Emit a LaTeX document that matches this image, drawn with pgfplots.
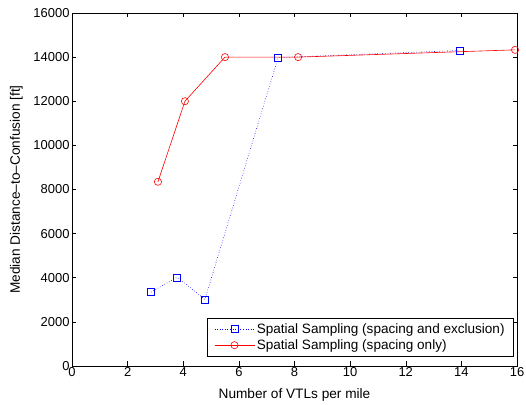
\documentclass[border=0pt]{standalone}
\usepackage{fontspec}
\setmainfont{Liberation Sans}
\usepackage{pgfplots}
\pgfplotsset{compat=1.18}
\begin{document}
\begin{tikzpicture}[x=1bp,y=1bp]
\useasboundingbox (-72bp,-39bp) rectangle (454bp,366bp);
\begin{axis}[
  at={(0,0)}, anchor=south west,
  scale only axis,
  width=445bp, height=353bp,
  xmin=0, xmax=16, ymin=0, ymax=16000,
  xtick={0,2,...,16}, ytick={0,2000,...,16000},
  tick align=inside,
  tick pos=both,
  major tick length=4.5bp,
  scaled y ticks=false,
  /pgf/number format/assume math mode=true,
  ticklabel style={font=\fontsize{13}{15}\selectfont},
  xticklabel style={yshift=2bp},
  yticklabel style={xshift=1bp, /pgf/number format/.cd, fixed, 1000 sep={}},
  label style={font=\fontsize{13.7}{15}\selectfont},
  xlabel={Number of VTLs per mile},
  ylabel={Median Distance\textendash to\textendash Confusion [ft]},
  xlabel style={yshift=-5bp},
  ylabel style={yshift=4bp},
  axis line style={line width=0.6bp},
  every tick/.style={black, line width=0.5bp},
  legend image code/.code={\draw[mark repeat=2,mark phase=2,#1] plot coordinates {(0bp,0bp)(20bp,0bp)(40bp,0bp)};},
  legend style={at={(0.993,0.028)}, anchor=south east, font=\fontsize{13.6}{16}\selectfont, draw=black, line width=0.6bp, inner xsep=7bp, inner ysep=3bp, row sep=1bp, cells={anchor=west}},
  legend cell align=left,
]
\addplot[blue, dotted, line width=0.6bp, mark=square, mark size=3.5bp, mark options={solid}] coordinates {
  (2.84,3350) (3.78,4020) (4.78,3020) (7.41,13980) (13.95,14300)
};
\addlegendentry{Spatial Sampling (spacing and exclusion)}
\addplot[red, solid, line width=0.6bp, mark=o, mark size=3.6bp] coordinates {
  (3.09,8350) (4.06,12000) (5.5,14000) (8.13,14000) (15.93,14330)
};
\addlegendentry{Spatial Sampling (spacing only)}
\end{axis}
\end{tikzpicture}
\end{document}
